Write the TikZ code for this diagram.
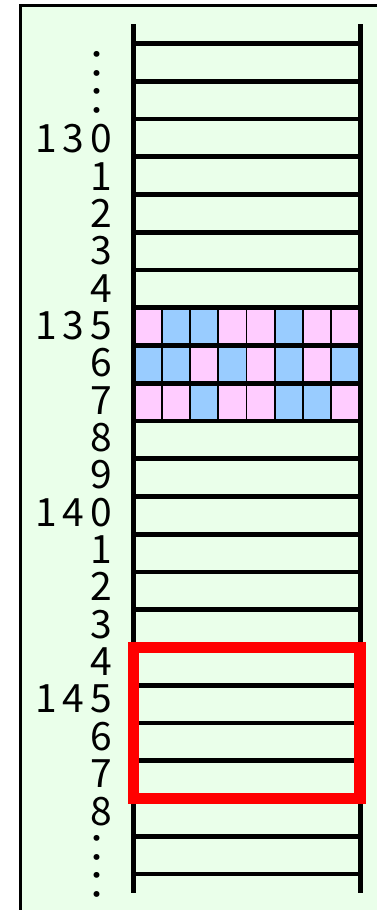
\documentclass[tikz,border=0pt]{standalone}
\usepackage{fontspec}
\newfontfamily\ladderfont[LetterSpace=15]{Noto Sans CJK JP}
\definecolor{bggreen}{RGB}{234,255,234}
\definecolor{cellp}{RGB}{255,204,255}
\definecolor{cellb}{RGB}{153,204,255}
\usepackage{tikz}
\tikzset{
  rail/.style={line width=5pt},
  rung/.style={line width=4.6pt},
  cellline/.style={line width=1.8pt},
  redbox/.style={draw=red, line width=11.5pt},
  rowlabel/.style={anchor=base east, inner sep=0pt, text height=26pt, text depth=0pt,
    font=\ladderfont\fontsize{39}{39}\selectfont},
  rowdots/.style={rowlabel, anchor=base},
}

\begin{document}
\begin{tikzpicture}[x=1pt,y=-1pt]
        \useasboundingbox (0,0) rectangle (377,910);
        \fill[bggreen] (20,5.3) rectangle (377,910);
        \draw[line width=3pt] (20,910) |- (377,5.3);
        \foreach \pat [count=\r from 7] in {{p,b,b,p,p,b,p,p},{b,b,p,b,p,b,p,b},{p,p,b,p,p,b,b,p}}
          \foreach \c [count=\i from 0] in \pat
            \fill[cell\c] (133.5+28.25*\i,43.5+37.75*\r) rectangle ++(28.25,37.75);
        \foreach \i in {1,...,7}
          \draw[cellline] (133.5+28.25*\i,307.75) -- (133.5+28.25*\i,421);
        \foreach \k in {0,...,22}
          \draw[rung] (133.5,43.5+37.75*\k) -- (360,43.5+37.75*\k);
        \draw[rail] (133.5,24) -- (133.5,893);
        \draw[rail] (360,24) -- (360,893);
        \draw[redbox] (133.5,647.5) rectangle (360,798.5);
        \foreach \lbl [count=\r from 2] in {130,1,2,3,4,135,6,7,8,9,140,1,2,3,4,145,6,7,8}
          \node[rowlabel] (lbl\r) at (112,78+37.35*\r) {\lbl};
        \foreach \r in {0,1,21,22}
          \node[rowdots] (dots\r) at (97,78+37.35*\r) {：};
      \end{tikzpicture}
\end{document}
